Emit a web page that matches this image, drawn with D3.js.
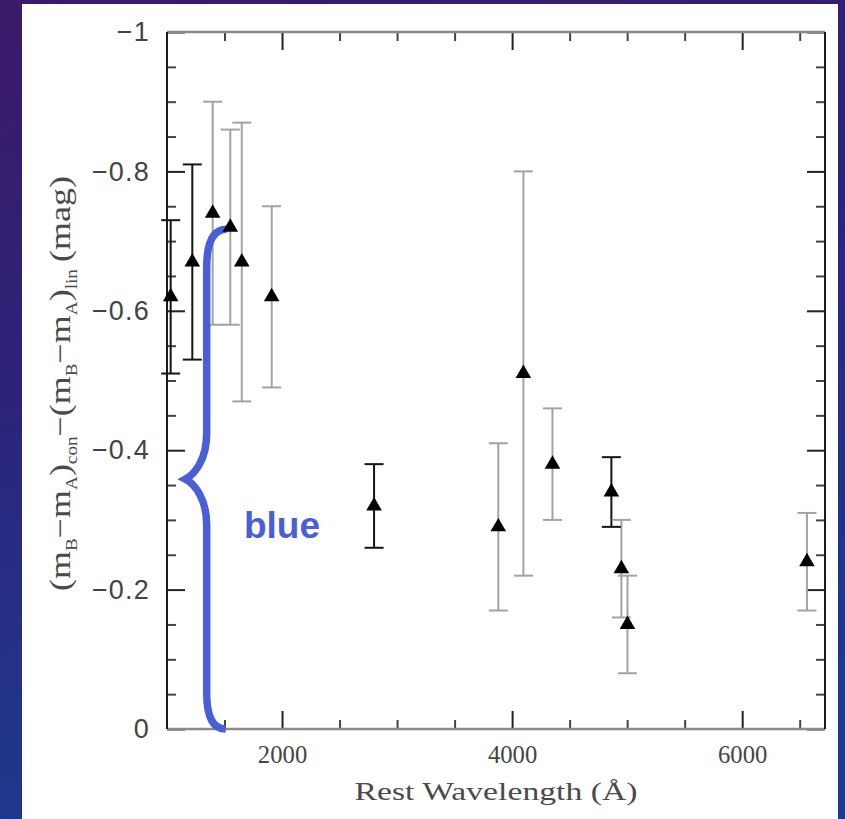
<!DOCTYPE html>
<html><head><meta charset="utf-8">
<script src="https://cdn.jsdelivr.net/npm/d3@7"></script>
<style>html,body{margin:0;padding:0;overflow:hidden;background:#2a2578}</style>
</head><body><svg id="c" width="845" height="819"></svg>
<script>
// ---- data ----
const wavelength = [1032, 1220, 1397, 1550, 1650, 1910, 2800, 3880, 4098, 4351, 4863, 4950, 5003, 6563];
const colorDiff  = [-0.62, -0.67, -0.74, -0.72, -0.67, -0.62, -0.32, -0.29, -0.51, -0.38, -0.34, -0.23, -0.15, -0.24];
const errUpper   = [-0.73, -0.81, -0.90, -0.86, -0.87, -0.75, -0.38, -0.41, -0.80, -0.46, -0.39, -0.30, -0.22, -0.31];
const errLower   = [-0.51, -0.53, -0.58, -0.58, -0.47, -0.49, -0.26, -0.17, -0.22, -0.30, -0.29, -0.16, -0.08, -0.17];
const sample     = ["A", "A", "B", "B", "B", "B", "A", "B", "B", "B", "A", "B", "B", "B"];
const xDomain = [1000, 6720];
const yDomain = [-1, 0];
const xMajorTicks = [2000, 4000, 6000];
const xTickLabels = ["2000", "4000", "6000"];
const xMinorTicks = [1500, 2500, 3000, 3500, 4500, 5000, 5500, 6500];
const yMajorTicks = [-1, -0.8, -0.6, -0.4, -0.2, 0];
const yTickLabels = ["\u22121", "\u22120.8", "\u22120.6", "\u22120.4", "\u22120.2", "0"];
const yMinorTicks = [-0.95, -0.9, -0.85, -0.75, -0.7, -0.65, -0.55, -0.5, -0.45, -0.35, -0.3, -0.25, -0.15, -0.1, -0.05];
const braceRange = [-0.717, 0];        // span of the "blue" bracket (mag)
const braceWave = [1519, 1345, 1160];  // end, spine, tip wavelengths
const braceLabel = "blue";
const xTitle = "Rest Wavelength (\u00C5)";

// ---- layout ----
const W = 845, H = 819;
const m = {l: 167, r: 825, t: 32, b: 729};
const svg = d3.select("#c");
const defs = svg.append("defs");
const g = defs.append("linearGradient").attr("id", "bg")
  .attr("x1", 0).attr("y1", 0).attr("x2", 0.25).attr("y2", 1);
g.append("stop").attr("offset", 0).attr("stop-color", "#3b1a69");
g.append("stop").attr("offset", 0.45).attr("stop-color", "#2d2479");
g.append("stop").attr("offset", 1).attr("stop-color", "#1c3a8f");
svg.append("rect").attr("width", W).attr("height", H).attr("fill", "url(#bg)");
svg.append("rect").attr("x", 22).attr("y", 4).attr("width", 816).attr("height", H).attr("fill", "#ffffff");

const x = d3.scaleLinear().domain(xDomain).range([m.l, m.r]);
const y = d3.scaleLinear().domain(yDomain).range([m.t, m.b]);
const col = d3.scaleOrdinal().domain(["A", "B"]).range(["#151515", "#a3a3a3"]);

function styleAxis(sel, tickColor) {
  sel.select(".domain").remove();
  sel.selectAll(".tick line").attr("stroke", tickColor).attr("stroke-width", 2);
}
const MAJ = 18, MIN = 9;
// bottom
const gb = svg.append("g").attr("transform", `translate(0,${m.b})`)
  .call(d3.axisBottom(x).tickValues(xMajorTicks).tickSizeInner(-MAJ).tickSizeOuter(0).tickPadding(16)
    .tickFormat((d, i) => xTickLabels[i]));
styleAxis(gb, "#222");
gb.selectAll("text").attr("font-family", "'Liberation Serif', serif").attr("font-size", 26)
  .attr("fill", "#444").attr("transform", "scale(0.95,1)");
gb.selectAll(".tick").each(function() { /* keep centred */ });
svg.append("g").attr("transform", `translate(0,${m.b})`)
  .call(d3.axisBottom(x).tickValues(xMinorTicks).tickSizeInner(-MIN).tickSizeOuter(0).tickFormat(""))
  .call(s => styleAxis(s, "#444"));
// top
svg.append("g").attr("transform", `translate(0,${m.t})`)
  .call(d3.axisTop(x).tickValues(xMajorTicks).tickSizeInner(-MAJ).tickSizeOuter(0).tickFormat(""))
  .call(s => styleAxis(s, "#222"));
svg.append("g").attr("transform", `translate(0,${m.t})`)
  .call(d3.axisTop(x).tickValues(xMinorTicks).tickSizeInner(-MIN).tickSizeOuter(0).tickFormat(""))
  .call(s => styleAxis(s, "#444"));
// left
const gl = svg.append("g").attr("transform", `translate(${m.l},0)`)
  .call(d3.axisLeft(y).tickValues(yMajorTicks).tickSizeInner(-MAJ).tickSizeOuter(0).tickPadding(17)
    .tickFormat((d, i) => yTickLabels[i]));
styleAxis(gl, "#222");
gl.selectAll("text").attr("font-family", "'Liberation Sans', Arial, sans-serif").attr("font-size", 27)
  .attr("letter-spacing", 1.2).attr("fill", "#444");
svg.append("g").attr("transform", `translate(${m.l},0)`)
  .call(d3.axisLeft(y).tickValues(yMinorTicks).tickSizeInner(-MIN).tickSizeOuter(0).tickFormat(""))
  .call(s => styleAxis(s, "#444"));
// right
svg.append("g").attr("transform", `translate(${m.r},0)`)
  .call(d3.axisRight(y).tickValues(yMajorTicks).tickSizeInner(-MAJ).tickSizeOuter(0).tickFormat(""))
  .call(s => styleAxis(s, "#222"));
svg.append("g").attr("transform", `translate(${m.r},0)`)
  .call(d3.axisRight(y).tickValues(yMinorTicks).tickSizeInner(-MIN).tickSizeOuter(0).tickFormat(""))
  .call(s => styleAxis(s, "#444"));

// frame
svg.append("line").attr("x1", m.l).attr("x2", m.r).attr("y1", m.t).attr("y2", m.t).attr("stroke", "#8a8a8a").attr("stroke-width", 2.5);
svg.append("line").attr("x1", m.l).attr("x2", m.r).attr("y1", m.b).attr("y2", m.b).attr("stroke", "#8a8a8a").attr("stroke-width", 2.5);
svg.append("line").attr("x1", m.l).attr("x2", m.l).attr("y1", m.t).attr("y2", m.b).attr("stroke", "#1a1a1a").attr("stroke-width", 2);
svg.append("line").attr("x1", m.r).attr("x2", m.r).attr("y1", m.t).attr("y2", m.b).attr("stroke", "#1a1a1a").attr("stroke-width", 2);

// error bars
const idx = d3.range(wavelength.length);
const eb = svg.append("g");
const CAP = 9.5;
eb.selectAll(".stem").data(idx).join("line")
  .attr("x1", i => x(wavelength[i])).attr("x2", i => x(wavelength[i]))
  .attr("y1", i => y(errUpper[i])).attr("y2", i => y(errLower[i]))
  .attr("stroke", i => col(sample[i])).attr("stroke-width", 2);
[errUpper, errLower].forEach(arr => {
  eb.selectAll(null).data(idx).join("line")
    .attr("x1", i => x(wavelength[i]) - CAP).attr("x2", i => x(wavelength[i]) + CAP)
    .attr("y1", i => y(arr[i])).attr("y2", i => y(arr[i]))
    .attr("stroke", i => col(sample[i])).attr("stroke-width", 2);
});

// brace annotation
const BLUE = "#4a5fd7";
const xe = x(braceWave[0]), xs = x(braceWave[1]), xt = x(braceWave[2]);
const yTop = y(braceRange[0]), yBot = y(braceRange[1]), yMid = (yTop + yBot) / 2;
const dx = xs - xt;
const bp = d3.path();
bp.moveTo(xe, yTop);
bp.quadraticCurveTo(xs, yTop, xs, yTop + 38);
bp.lineTo(xs, yMid - 46);
bp.bezierCurveTo(xs, yMid - 20, xt + dx * 0.45, yMid - 5, xt, yMid);
bp.bezierCurveTo(xt + dx * 0.45, yMid + 5, xs, yMid + 20, xs, yMid + 46);
bp.lineTo(xs, yBot - 36);
bp.quadraticCurveTo(xs, yBot, x(1510), yBot);
svg.append("path").attr("d", bp.toString()).attr("fill", "none")
  .attr("stroke", BLUE).attr("stroke-width", 7.5).attr("stroke-linecap", "butt");

// triangles
svg.append("g").selectAll("path").data(idx).join("path")
  .attr("d", d3.symbol(d3.symbolTriangle, 105))
  .attr("transform", i => `translate(${x(wavelength[i])},${y(colorDiff[i])})`)
  .attr("fill", "#000");

svg.append("text").attr("x", 282).attr("y", 538).attr("text-anchor", "middle")
  .attr("font-family", "'Liberation Sans', Arial, sans-serif").attr("font-weight", "bold")
  .attr("font-size", 37).attr("fill", BLUE).text(braceLabel);

// titles
function fit(sel, target) {
  const w = sel.node().getBBox().width;
  return target / w;
}
const xt_ = svg.append("text").attr("text-anchor", "middle")
  .attr("font-family", "'Liberation Serif', serif").attr("font-size", 25).attr("fill", "#4a4a4a")
  .text(xTitle);
const sx = fit(xt_, 283);
xt_.attr("transform", `translate(${(m.l + m.r) / 2},800) scale(${sx},1)`);

const parts = [["(m"], ["B", 1], ["\u2212m"], ["A", 1], [")"], ["con", 1], ["\u2212(m"], ["B", 1], ["\u2212m"], ["A", 1], [")"], ["lin", 1], ["\u2009(mag)"]];
const yt = svg.append("text").attr("text-anchor", "middle")
  .attr("font-family", "'Liberation Serif', serif").attr("font-size", 30).attr("fill", "#4a4a4a");
let shifted = false;
parts.forEach(p => {
  const ts = yt.append("tspan").text(p[0]);
  if (p[1]) { ts.attr("font-size", 16); if (!shifted) { ts.attr("dy", 7); shifted = true; } }
  else if (shifted) { ts.attr("dy", -7); shifted = false; }
});
const sy = fit(yt, 415);
yt.attr("transform", `translate(70,${(m.t + m.b) / 2 + 3}) rotate(-90) scale(${sy},1)`);
</script></body></html>
